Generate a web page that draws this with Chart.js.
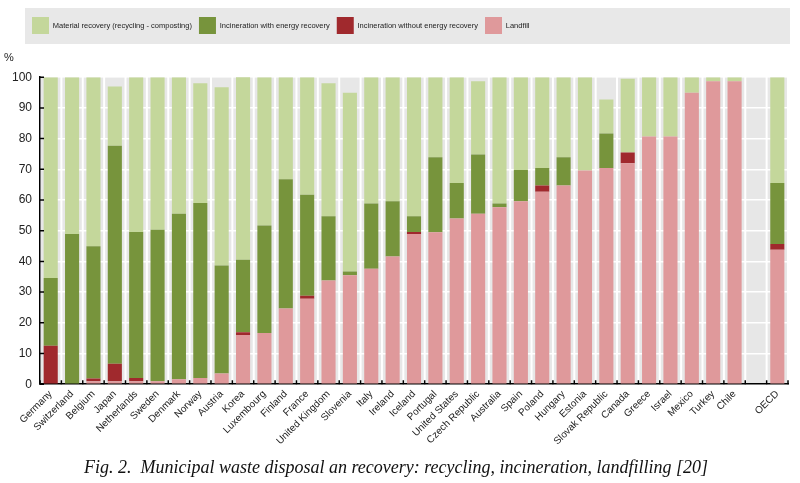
<!DOCTYPE html>
<html>
<head>
<meta charset="utf-8">
<script src="https://cdn.jsdelivr.net/npm/chart.js@4.4.1/dist/chart.umd.min.js"></script>
<style>
  html, body { margin: 0; padding: 0; background: #fff; }
  #wrap { width: 800px; height: 483px; }
</style>
</head>
<body>
<div id="wrap"><canvas id="wasteChart"></canvas></div>
<script>
// data (share of municipal waste, %)
var countries = ['Germany', 'Switzerland', 'Belgium', 'Japan', 'Netherlands', 'Sweden', 'Denmark', 'Norway', 'Austria', 'Korea',
    'Luxembourg', 'Finland', 'France', 'United Kingdom', 'Slovenia', 'Italy', 'Ireland', 'Iceland', 'Portugal', 'United States',
    'Czech Republic', 'Australia', 'Spain', 'Poland', 'Hungary', 'Estonia', 'Slovak Republic', 'Canada', 'Greece', 'Israel',
    'Mexico', 'Turkey', 'Chile', '', 'OECD'];
var landfill = [0, 0, 1, 1, 1, 1, 1.6, 2, 3.5, 16, 16.7, 24.7, 27.8, 33.8, 35.5, 37.6, 41.6, 48.9, 49.5, 54,
    55.5, 57.6, 59.6, 62.7, 64.7, 69.6, 70.4, 72, 80.7, 80.7, 94.9, 98.7, 98.7, null, 43.8];
var incinNoEnergy = [12.5, 0, 0.9, 5.7, 1, 0, 0, 0, 0, 0.9, 0, 0, 1, 0, 0, 0, 0, 0.7, 0, 0,
    0, 0, 0, 2, 0, 0, 0, 3.5, 0, 0, 0, 0, 0, null, 1.9];
var incinEnergy = [22.1, 48.9, 43, 71, 47.6, 49.3, 53.9, 57, 35.2, 23.6, 35, 42.1, 32.9, 20.9, 1.2, 21.3, 18, 5.1, 24.4, 11.5,
    19.3, 1.3, 10.2, 5.7, 9.2, 0, 11.3, 0, 0, 0, 0, 0, 0, null, 19.8];
var materialRecovery = [65.4, 51.1, 55.1, 19.3, 50.4, 49.7, 44.5, 39, 58, 59.6, 48.3, 33.2, 38.3, 43.3, 58.2, 41.1, 40.4, 45.3, 26.1, 34.5,
    23.9, 41.1, 30.2, 29.6, 26.1, 30.4, 11, 24, 19.3, 19.3, 5.1, 1.3, 1.3, null, 34.5];
var yTicks = [0, 10, 20, 30, 40, 50, 60, 70, 80, 90, 100];

var sans = "'Liberation Sans', Arial, sans-serif";

// grey column bands, legend box and little inward ticks like the original
var decorPlugin = {
    id: 'decor',
    afterLayout: function(chart) {
        // push the legend items a bit to the right inside the grey box
        chart.legend.left += 21;
    },
    beforeDraw: function(chart) {
        var ctx = chart.ctx, area = chart.chartArea, xs = chart.scales.x, lg = chart.legend;
        var slot = (area.right - area.left) / countries.length;
        ctx.save();
        ctx.fillStyle = '#e8e8e8';
        ctx.fillRect(25, lg.top - 2, chart.width - 35, lg.bottom - lg.top + 2);
        ctx.fillStyle = '#e7e7e7';
        countries.forEach(function(c, i) {
            var cx = xs.getPixelForValue(i);
            ctx.fillRect(cx - slot / 2 + 1, area.top, slot - 2, area.bottom - area.top);
        });
        ctx.restore();
    },
    afterDatasetsDraw: function(chart) {
        var ctx = chart.ctx, area = chart.chartArea, xs = chart.scales.x, ys = chart.scales.y;
        var slot = (area.right - area.left) / countries.length;
        ctx.save();
        ctx.strokeStyle = '#000';
        ctx.lineWidth = 1.5;
        ctx.beginPath();
        yTicks.forEach(function(v) {
            var py = ys.getPixelForValue(v);
            ctx.moveTo(area.left, py);
            ctx.lineTo(area.left + 4, py);
        });
        for (var i = 0; i <= countries.length; i++) {
            var px = xs.getPixelForValue(0) - slot / 2 + i * slot;
            ctx.moveTo(px, area.bottom);
            ctx.lineTo(px, area.bottom - 4);
        }
        ctx.stroke();
        ctx.restore();
    }
};

var ctx = document.getElementById('wasteChart').getContext('2d');
var wasteChart = new Chart(ctx, {
    type: 'bar',
    data: {
        labels: countries,
        datasets: [{
            label: 'Landfill',
            data: landfill,
            backgroundColor: '#df999b'
        }, {
            label: 'Incineration without energy recovery',
            data: incinNoEnergy,
            backgroundColor: '#a0292d'
        }, {
            label: 'Incineration with energy recovery',
            data: incinEnergy,
            backgroundColor: '#77943c'
        }, {
            label: 'Material recovery (recycling - composting)',
            data: materialRecovery,
            backgroundColor: '#c4d79b'
        }]
    },
    options: {
        responsive: true,
        maintainAspectRatio: false,
        animation: false,
        datasets: {
            bar: { categoryPercentage: 1, barPercentage: 0.66 }
        },
        layout: { padding: { left: 4, right: 12, top: 10, bottom: 0 } },
        plugins: {
            tooltip: { enabled: false },
            legend: {
                position: 'top',
                align: 'start',
                reverse: true,
                labels: {
                    boxWidth: 17,
                    boxHeight: 17,
                    padding: 7,
                    color: '#222',
                    font: { family: sans, size: 7.5 }
                }
            },
            subtitle: {
                display: true,
                text: '%',
                align: 'start',
                position: 'top',
                weight: 500,
                color: '#222',
                font: { family: sans, size: 11, weight: 'normal' },
                padding: { top: 7, bottom: 13 }
            },
            title: {
                display: true,
                text: 'Fig. 2.  Municipal waste disposal an recovery: recycling, incineration, landfilling [20]',
                position: 'bottom',
                color: '#111',
                font: { family: "'Liberation Serif', 'DejaVu Serif', serif", size: 18, style: 'italic', weight: 'normal' },
                padding: { top: 6, bottom: 4 }
            }
        },
        scales: {
            x: {
                stacked: true,
                grid: { display: false, drawTicks: false },
                border: { color: '#000', width: 1.5 },
                ticks: {
                    autoSkip: false,
                    maxRotation: 45,
                    minRotation: 45,
                    padding: 4,
                    color: '#222',
                    font: { family: sans, size: 10 }
                }
            },
            y: {
                stacked: true,
                min: 0,
                max: 100,
                afterBuildTicks: function(axis) {
                    axis.ticks = yTicks.map(function(v) { return { value: v }; });
                },
                grid: { color: '#ffffff', lineWidth: 1.5, drawTicks: false },
                border: { color: '#000', width: 1.5 },
                ticks: {
                    padding: 8,
                    color: '#222',
                    font: { family: sans, size: 12 }
                }
            }
        }
    },
    plugins: [decorPlugin]
});
</script>
</body>
</html>
